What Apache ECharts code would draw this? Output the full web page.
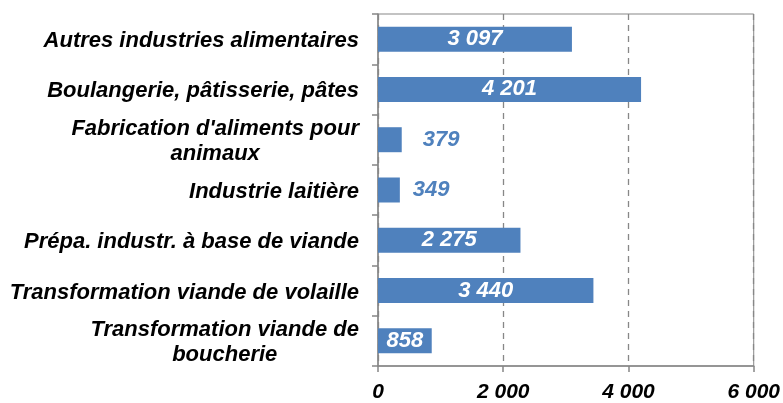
<!DOCTYPE html>
<html><head><meta charset="utf-8">
<script src="https://cdn.jsdelivr.net/npm/echarts@6/dist/echarts.min.js"></script>
<style>html,body{margin:0;padding:0;background:#fff}#c{width:783px;height:403px}</style>
</head><body><div id="c"></div>
<script>
const categories = [
  "Autres industries alimentaires",
  "Boulangerie, pâtisserie, pâtes",
  "Fabrication d'aliments pour\nanimaux",
  "Industrie laitière",
  "Prépa. industr. à base de viande",
  "Transformation viande de volaille",
  "Transformation viande de\nboucherie"
];
const values = [3097, 4201, 379, 349, 2275, 3440, 858];
const outsideLabelDistance = [null, null, 21, 13, null, null, null];
const xTicks = [0, 2000, 4000, 6000];

const fmt = v => String(v).replace(/\B(?=(\d{3})+(?!\d))/g, ' ');
const FONT = 'Liberation Sans, Arial, sans-serif';
const BLUE = '#4F81BD';
const GRAY = '#878787';

const chart = echarts.init(document.getElementById('c'), null, {renderer: 'canvas'});
chart.setOption({
  animation: false,
  grid: {left: 378, right: 28, top: 14, bottom: 34, show: true, borderColor: GRAY, borderWidth: 1, containLabel: false},
  xAxis: {
    type: 'value', min: xTicks[0], max: xTicks[xTicks.length - 1], interval: 2000,
    axisLine: {show: true, lineStyle: {color: GRAY, width: 1.5}},
    axisTick: {show: true, length: 6, lineStyle: {color: GRAY, width: 1.5}},
    splitLine: {show: true, lineStyle: {color: GRAY, type: [6, 5], width: 1.3}},
    axisLabel: {
      margin: 16, color: '#000', fontFamily: FONT, fontSize: 21, fontWeight: 'bold', fontStyle: 'italic',
      formatter: v => fmt(v)
    }
  },
  yAxis: {
    type: 'category', data: categories, inverse: true,
    axisLine: {show: true, lineStyle: {color: GRAY, width: 1.5}},
    axisTick: {show: true, length: 6, lineStyle: {color: GRAY, width: 1.5}},
    splitLine: {show: false},
    axisLabel: {
      margin: 19, color: '#000', fontFamily: FONT, fontSize: 22, fontWeight: 'bold', fontStyle: 'italic',
      align: 'right', lineHeight: 25, padding: [4, 0, 0, 0],
      formatter: v => v.split('\n').map(s => '{c|' + s + '}').join('\n'),
      rich: {c: {align: 'center', fontFamily: FONT, fontSize: 22, fontWeight: 'bold', fontStyle: 'italic', color: '#000', lineHeight: 25}}
    }
  },
  series: [{
    type: 'bar', barWidth: 25,
    itemStyle: {color: BLUE},
    data: values.map((v, i) => {
      const d = {value: v};
      if (outsideLabelDistance[i] != null) {
        d.label = {position: 'right', distance: outsideLabelDistance[i], color: BLUE};
      }
      return d;
    }),
    label: {
      show: true, position: 'inside', color: '#fff', fontFamily: FONT, fontSize: 22,
      fontWeight: 'bold', fontStyle: 'italic', formatter: p => fmt(p.value)
    }
  }]
});
</script></body></html>
